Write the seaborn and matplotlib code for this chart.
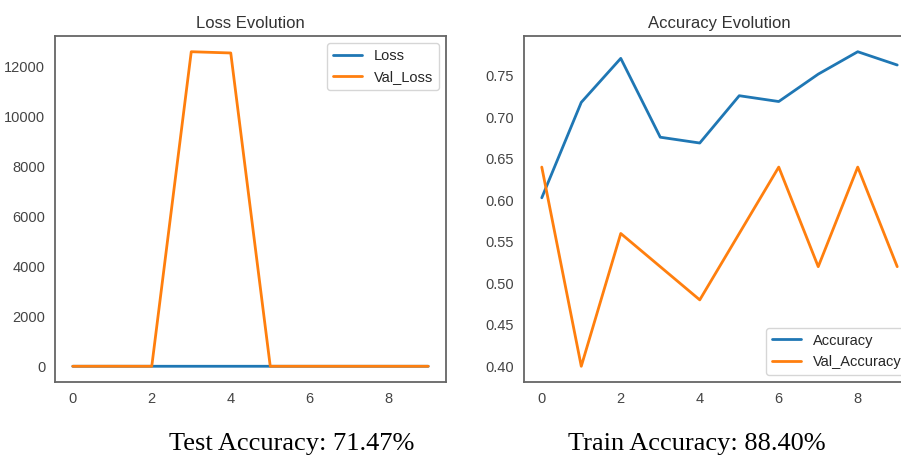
import matplotlib
matplotlib.use('Agg')
import matplotlib.pyplot as plt
import seaborn as sns
import pandas as pd

# training history
epochs = [0, 1, 2, 3, 4, 5, 6, 7, 8, 9]
loss = [0.69, 0.62, 0.58, 0.64, 0.63, 0.57, 0.58, 0.54, 0.49, 0.51]
val_loss = [0.66, 2.1, 0.75, 12600, 12550, 0.9, 0.7, 0.8, 0.68, 0.75]
accuracy = [0.603, 0.718, 0.771, 0.676, 0.669, 0.726, 0.719, 0.752, 0.779, 0.763]
val_accuracy = [0.64, 0.40, 0.56, 0.52, 0.48, 0.56, 0.64, 0.52, 0.64, 0.52]
test_acc = 71.47
train_acc = 88.40

sns.set_style('white')
plt.rcParams['font.family'] = ['Liberation Sans', 'DejaVu Sans']
plt.rcParams['axes.edgecolor'] = '#666666'
plt.rcParams['axes.linewidth'] = 1.3
plt.rcParams['xtick.color'] = '#444444'
plt.rcParams['ytick.color'] = '#444444'

hist = pd.DataFrame({'epoch': epochs, 'Loss': loss, 'Val_Loss': val_loss,
                     'Accuracy': accuracy, 'Val_Accuracy': val_accuracy})

fig = plt.figure(figsize=(9.01, 4.55), dpi=100)
ax1 = fig.add_axes([55 / 901, 73 / 455, 391 / 901, 346 / 455])
ax2 = fig.add_axes([524 / 901, 73 / 455, 391 / 901, 346 / 455])

# loss plot
sns.lineplot(x='epoch', y='Loss', data=hist, ax=ax1, color='#1f77b4', lw=2, label='Loss')
sns.lineplot(x='epoch', y='Val_Loss', data=hist, ax=ax1, color='#ff7f0e', lw=2, label='Val_Loss')
ax1.set_title('Loss Evolution', fontsize=12, color='#333333')
ax1.legend(loc='upper right', fontsize=10.5, frameon=True)

# accuracy plot
sns.lineplot(x='epoch', y='Accuracy', data=hist, ax=ax2, color='#1f77b4', lw=2, label='Accuracy')
sns.lineplot(x='epoch', y='Val_Accuracy', data=hist, ax=ax2, color='#ff7f0e', lw=2, label='Val_Accuracy')
ax2.set_title('Accuracy Evolution', fontsize=12, color='#333333')
ax2.legend(loc='lower right', fontsize=10.5, frameon=True)

for ax in (ax1, ax2):
    ax.set_xlabel('')
    ax.set_ylabel('')
    ax.set_xticks([0, 2, 4, 6, 8])
    ax.tick_params(labelsize=10.5)

ax2.set_yticks([0.40, 0.45, 0.50, 0.55, 0.60, 0.65, 0.70, 0.75])
ax2.set_yticklabels(['%.2f' % v for v in [0.40, 0.45, 0.50, 0.55, 0.60, 0.65, 0.70, 0.75]])

fig.text(292 / 901, 5 / 455, 'Test Accuracy: %.2f%%' % test_acc, ha='center', va='baseline',
         fontsize=19, family='Liberation Serif', color='black')
fig.text(697 / 901, 5 / 455, 'Train Accuracy: %.2f%%' % train_acc, ha='center', va='baseline',
         fontsize=19, family='Liberation Serif', color='black')

fig.savefig('out.png', dpi=100)
